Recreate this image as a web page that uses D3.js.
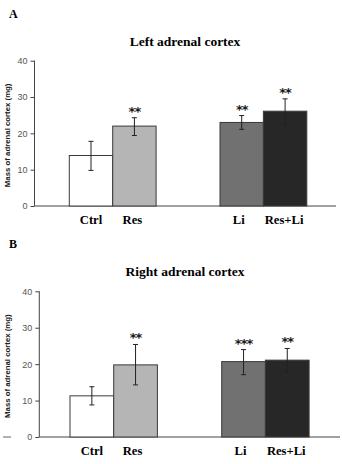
<!DOCTYPE html>
<html>
<head>
<meta charset="utf-8">
<script src="https://cdn.jsdelivr.net/npm/d3@7"></script>
<style>
  body { margin: 0; background: #fff; }
  svg { display: block; }
</style>
</head>
<body>
<div id="chart"></div>
<script>
// groups, shared by both panels
const groups = ["Ctrl", "Res", "Li", "Res+Li"];
const fills = ["#ffffff", "#b5b5b5", "#717171", "#272727"];
const yTickValues = [0, 10, 20, 30, 40];

// panel A: left adrenal cortex
const leftMean = [13.9, 22.0, 23.0, 26.1];
const leftLow = [9.8, 19.4, 21.1, 22.4];
const leftHigh = [17.8, 24.3, 24.9, 29.5];
const leftStars = ["", "**", "**", "**"];

// panel B: right adrenal cortex
const rightMean = [11.3, 19.8, 20.7, 21.1];
const rightLow = [8.8, 14.3, 17.1, 17.8];
const rightHigh = [13.8, 25.4, 24.0, 24.3];
const rightStars = ["", "**", "***", "**"];

const width = 342, height = 464;

const svg = d3.select('#chart')
    .append('svg')
    .attr('width', width)
    .attr('height', height);

function drawPanel(p) {
    const g = svg.append('g').attr('transform', `translate(0,${p.top})`);

    // panel letter + title
    g.append('text')
        .attr('x', 9).attr('y', 18)
        .attr('font-family', 'Liberation Serif, serif')
        .attr('font-weight', 'bold').attr('font-size', 12)
        .text(p.letter);
    g.append('text')
        .attr('x', 185).attr('y', 46)
        .attr('text-anchor', 'middle')
        .attr('font-family', 'Liberation Serif, serif')
        .attr('font-weight', 'bold').attr('font-size', 13.5)
        .text(p.title);

    const y = d3.scaleLinear().domain([0, 40]).range([p.y0, p.y40]);
    // band scale with a gap slot in the middle
    const x = d3.scaleBand()
        .domain(["Ctrl", "Res", "gap", "Li", "Res+Li"])
        .range([p.x0, p.x0 + 5 * p.bw]);
    const xs = (k) => x(k) + (k === "Li" || k === "Res+Li" ? p.shift : 0);

    // y axis
    const yAxis = d3.axisLeft(y).tickValues(yTickValues).tickSize(4).tickPadding(3);
    const ya = g.append('g').attr('transform', `translate(${p.axisX},0)`).call(yAxis);
    ya.select('.domain').attr('stroke', '#444').attr('d', `M-0,${p.y0}V${p.y40}`);
    ya.selectAll('line').attr('stroke', '#444');
    ya.selectAll('text').attr('font-family', 'Liberation Sans, Arial, sans-serif')
        .attr('font-size', 9).attr('fill', '#555');

    // baseline
    g.append('line')
        .attr('x1', p.axisX).attr('x2', p.axisEnd)
        .attr('y1', y(0)).attr('y2', y(0))
        .attr('stroke', '#444').attr('stroke-width', 1);

    if (p.dash) {
        g.append('line')
            .attr('x1', 3).attr('x2', 11)
            .attr('y1', y(0)).attr('y2', y(0))
            .attr('stroke', '#666').attr('stroke-width', 1);
    }

    // y label
    g.append('text')
        .attr('transform', `translate(9.5,${(p.y0 + p.y40) / 2 + 2}) rotate(-90)`)
        .attr('text-anchor', 'middle')
        .attr('font-family', 'Liberation Sans, Arial, sans-serif')
        .attr('font-weight', 'bold').attr('font-size', 7.8)
        .attr('fill', '#222')
        .text('Mass of adrenal cortex (mg)');

    // bars
    g.selectAll('rect.bar')
        .data(groups)
        .enter()
        .append('rect')
        .attr('class', 'bar')
        .attr('x', d => xs(d))
        .attr('y', (d, i) => y(p.mean[i]))
        .attr('width', x.bandwidth())
        .attr('height', (d, i) => y(0) - y(p.mean[i]))
        .attr('fill', (d, i) => fills[i])
        .attr('stroke', '#3a3a3a')
        .attr('stroke-width', 1);

    // error bars
    const cx = (d) => xs(d) + x.bandwidth() / 2;
    g.selectAll('line.err')
        .data(groups).enter().append('line')
        .attr('x1', cx).attr('x2', cx)
        .attr('y1', (d, i) => y(p.low[i])).attr('y2', (d, i) => y(p.high[i]))
        .attr('stroke', '#222').attr('stroke-width', 1);
    ['low', 'high'].forEach(k => {
        g.selectAll('line.cap' + k)
            .data(groups).enter().append('line')
            .attr('x1', d => cx(d) - 2.5).attr('x2', d => cx(d) + 2.5)
            .attr('y1', (d, i) => y(p[k][i])).attr('y2', (d, i) => y(p[k][i]))
            .attr('stroke', '#222').attr('stroke-width', 1);
    });

    // significance stars
    g.selectAll('text.star')
        .data(groups).enter().append('text')
        .attr('x', cx)
        .attr('y', (d, i) => y(p.high[i]) - 2)
        .attr('text-anchor', 'middle')
        .attr('font-family', 'DejaVu Sans, sans-serif')
        .attr('font-weight', 'bold').attr('font-size', 13)
        .attr('letter-spacing', -1)
        .attr('fill', '#1a1a1a')
        .text((d, i) => p.stars[i]);

    // category labels
    g.selectAll('text.cat')
        .data(groups).enter().append('text')
        .attr('x', (d, i) => cx(d) + p.labelDx[i])
        .attr('y', y(0) + 18)
        .attr('text-anchor', 'middle')
        .attr('font-family', 'Liberation Serif, serif')
        .attr('font-weight', 'bold').attr('font-size', 12.6)
        .text(d => d);
}

drawPanel({
    top: 0, letter: 'A', title: 'Left adrenal cortex',
    y0: 206, y40: 60.7, x0: 69.3, bw: 43.4, shift: 20.5, axisX: 34.5, axisEnd: 336,
    mean: leftMean, low: leftLow, high: leftHigh, stars: leftStars,
    labelDx: [0, -2, -3, -1], dash: false
});

drawPanel({
    top: 230, letter: 'B', title: 'Right adrenal cortex',
    y0: 207, y40: 61.3, x0: 70, bw: 43.7, shift: 20.6, axisX: 39.3, axisEnd: 340,
    mean: rightMean, low: rightLow, high: rightHigh, stars: rightStars,
    labelDx: [0, -3, -3, -1], dash: true
});
</script>
</body>
</html>
